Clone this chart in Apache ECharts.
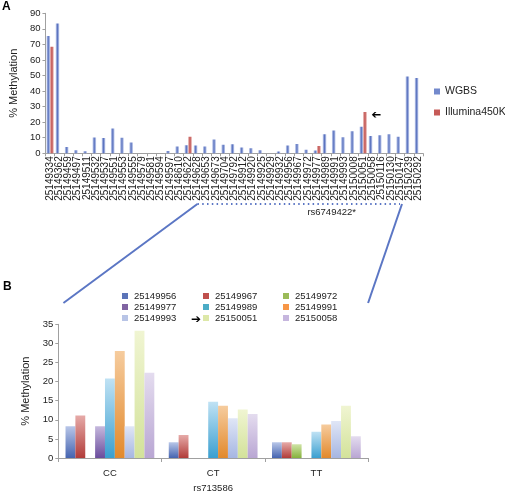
<!DOCTYPE html>
<html><head><meta charset="utf-8">
<script src="https://cdn.jsdelivr.net/npm/echarts@6/dist/echarts.min.js"></script>
<style>html,body{margin:0;padding:0;background:#fff}#c{width:505px;height:494px}</style>
</head><body><div id="c"></div>
<script>
// ---------- Panel A data ----------
const sitesA = ['25149334','25149362','25149459','25149497','25149511','25149532','25149537','25149551','25149553','25149555','25149579','25149581','25149594','25149597','25148610','25149622','25149628','25149653','25149673','25149704','25149792','25149912','25149920','25149925','25149929','25149932','25149956','25149967','25149972','25149977','25149989','25149991','25149993','25150008','25150051','25150058','25150116','25150130','25150147','25150239','25150292'];
const wgbsA = [75.4,83.5,4,2,1.3,10.2,9.8,16,10,7,null,null,null,1.5,4.4,5.2,5,4.3,8.8,5.5,5.8,3.8,3.2,2,null,1.2,5,6,2.3,1.8,12.2,14.6,10.3,14.1,17.1,11.1,11.6,12.2,10.7,49.3,48.4];
const illuminaA = [68.5,null,null,null,null,null,null,null,null,null,null,null,null,null,null,10.7,null,null,null,null,null,null,null,null,null,null,null,null,null,4.7,null,null,null,null,26.6,null,null,null,null,null,null];
const yTicksA = [0,10,20,30,40,50,60,70,80,90];

// ---------- Panel B data ----------
const genotypesB = ['CC','CT','TT'];
const v25149956 = [8.3,4.1,4.1];
const v25149967 = [11.1,6.0,4.1];
const v25149972 = [null,null,3.6];
const v25149977 = [8.3,null,null];
const v25149989 = [20.8,14.7,6.9];
const v25149991 = [28.0,13.7,8.8];
const v25149993 = [8.3,10.4,9.7];
const v25150051 = [33.3,12.7,13.7];
const v25150058 = [22.3,11.5,5.7];
const namesB = ['25149956','25149967','25149972','25149977','25149989','25149991','25149993','25150051','25150058'];
const valuesB = [v25149956,v25149967,v25149972,v25149977,v25149989,v25149991,v25149993,v25150051,v25150058];
const darkB  = ['#4564b0','#b13c39','#86b23c','#6a4c9c','#3a9fd0','#e2892c','#a6b6e2','#d3e29a','#b9a6d3'];
const lightB = ['#b8c6e8','#e6aaa8','#d0e4a6','#c5b8dd','#c0e2f4','#f6cc9e','#e0e6f6','#f0f5d2','#e4dcef'];
const legendB = ['#5b74b8','#c0504d','#9bbb59','#8064a2','#4bacc6','#f79646','#b8c4e6','#dde8a8','#c6b6de'];

const FONT = 'Liberation Sans, Arial, sans-serif';
const chart = echarts.init(document.getElementById('c'), null, {renderer:'canvas'});

function hGrad(edge, mid){
  return new echarts.graphic.LinearGradient(0,0,1,0,[
    {offset:0,color:edge},{offset:0.5,color:mid},{offset:1,color:edge}]);
}
function vGrad(top, bottom){
  return new echarts.graphic.LinearGradient(0,0,0,1,[
    {offset:0,color:top},{offset:1,color:bottom}]);
}

const seriesB = namesB.map((n,i)=>({
  name:n, type:'bar', xAxisIndex:1, yAxisIndex:1,
  data: valuesB[i], barGap:'0%', barCategoryGap:'14%',
  itemStyle:{color: vGrad(lightB[i], darkB[i])}
}));

function legendCol(left, items){
  return {
    orient:'vertical', left:left, top:291, itemWidth:6, itemHeight:6, itemGap:1,
    icon:'rect', padding:0, selectedMode:false,
    textStyle:{fontSize:9.5, fontFamily:FONT, color:'#222', padding:[0,0,0,1]},
    data: items.map(n=>({name:n, itemStyle:{color:legendB[namesB.indexOf(n)]}}))
  };
}

const option = {
  animation:false,
  textStyle:{fontFamily:FONT},
  grid:[
    {left:33, top:13.3, width:390, height:140},
    {left:58.3, top:324.3, width:309.7, height:136.7}
  ],
  legend:[
    {orient:'vertical', left:434, top:86, itemWidth:6, itemHeight:6, itemGap:10, icon:'rect', padding:0, selectedMode:false,
     textStyle:{fontSize:10.5, fontFamily:FONT, color:'#222'},
     data:[{name:'WGBS', itemStyle:{color:'#7389cc'}},{name:'Illumina450K', itemStyle:{color:'#c65a57'}}]},
    legendCol(122, ['25149956','25149977','25149993']),
    legendCol(203, ['25149967','25149989','25150051']),
    legendCol(283, ['25149972','25149991','25150058'])
  ],
  xAxis:[
    {type:'category', gridIndex:0, data:sitesA,
     axisLine:{lineStyle:{color:'#a0a0a0'}},
     axisTick:{show:true, length:3, lineStyle:{color:'#a0a0a0'}},
     axisLabel:{rotate:90, interval:0, fontSize:10, color:'#222', margin:3, fontFamily:FONT}},
    {type:'category', gridIndex:1, data:genotypesB,
     name:'rs713586', nameLocation:'middle', nameGap:25,
     nameTextStyle:{fontSize:9.5, color:'#222', fontFamily:FONT},
     axisLine:{lineStyle:{color:'#a0a0a0'}},
     axisTick:{show:true, length:4, lineStyle:{color:'#a0a0a0'}},
     axisLabel:{fontSize:9.5, color:'#222', margin:10, fontFamily:FONT}}
  ],
  yAxis:[
    {type:'value', gridIndex:0, min:yTicksA[0], max:yTicksA[yTicksA.length-1], interval:10,
     name:'% Methylation', nameLocation:'middle', nameGap:22,
     nameTextStyle:{fontSize:11, color:'#222', fontFamily:FONT},
     splitLine:{show:false},
     axisLine:{show:true, lineStyle:{color:'#a0a0a0'}},
     axisTick:{show:true, length:3, lineStyle:{color:'#a0a0a0'}},
     axisLabel:{fontSize:9.5, color:'#222', margin:5, fontFamily:FONT}},
    {type:'value', gridIndex:1, min:0, max:35, interval:5,
     name:'% Methylation', nameLocation:'middle', nameGap:17,
     nameTextStyle:{fontSize:11, color:'#222', fontFamily:FONT},
     splitLine:{show:false},
     axisLine:{show:true, lineStyle:{color:'#a0a0a0'}},
     axisTick:{show:true, length:3, lineStyle:{color:'#a0a0a0'}},
     axisLabel:{fontSize:9.5, color:'#222', margin:5, fontFamily:FONT}}
  ],
  series:[
    {name:'WGBS', type:'bar', xAxisIndex:0, yAxisIndex:0, data:wgbsA, barWidth:3.6, barGap:'0%',
     itemStyle:{color:hGrad('#c9d3f0','#5b73bf')}},
    {name:'Illumina450K', type:'bar', xAxisIndex:0, yAxisIndex:0, data:illuminaA, barWidth:3.6, barGap:'0%',
     itemStyle:{color:hGrad('#e8b4b2','#c0504d')}}
  ].concat(seriesB)
};
chart.setOption(option);

// ---------- annotations placed from the axes ----------
const xL = chart.convertToPixel({xAxisIndex:0}, '25149628');
const xR = chart.convertToPixel({xAxisIndex:0}, '25150147');
const xArrowA = chart.convertToPixel({xAxisIndex:0}, '25150051');
const yArrowA = chart.convertToPixel({yAxisIndex:0}, 26.6);
const bLeft = chart.convertToPixel({xAxisIndex:1}, 'CC') - 46.5;
const bRight = chart.convertToPixel({xAxisIndex:1}, 'TT') + 51.7;
const lineCol = '#5b76c4';
chart.setOption({
  graphic:[
    {type:'text', left:2, top:1, style:{text:'A', fontSize:12, fontWeight:'bold', fill:'#000', fontFamily:FONT}},
    {type:'text', left:3, top:281, style:{text:'B', fontSize:12, fontWeight:'bold', fill:'#000', fontFamily:FONT}},
    {type:'line', shape:{x1:xL, y1:204, x2:xR, y2:204}, style:{stroke:lineCol, lineWidth:1.8, lineDash:[1.5,3.3]}},
    {type:'line', shape:{x1:xL, y1:204, x2:bLeft, y2:303}, style:{stroke:lineCol, lineWidth:2}},
    {type:'line', shape:{x1:xR+2, y1:204, x2:bRight, y2:303}, style:{stroke:lineCol, lineWidth:2}},
    {type:'text', x:(xL+xR)/2+33, y:212, style:{text:'rs6749422*', fontSize:9.5, fill:'#222', fontFamily:FONT, align:'center', verticalAlign:'middle'}},
    {type:'text', x:xArrowA+13, y:yArrowA+2, rotation:Math.PI, style:{text:'\u2794', fontSize:12, fill:'#000', fontFamily:'DejaVu Sans', align:'center', verticalAlign:'middle'}},
    {type:'text', x:196, y:320, style:{text:'\u2794', fontSize:12, fill:'#000', fontFamily:'DejaVu Sans', align:'center', verticalAlign:'middle'}}
  ]
});
</script>
</body></html>
